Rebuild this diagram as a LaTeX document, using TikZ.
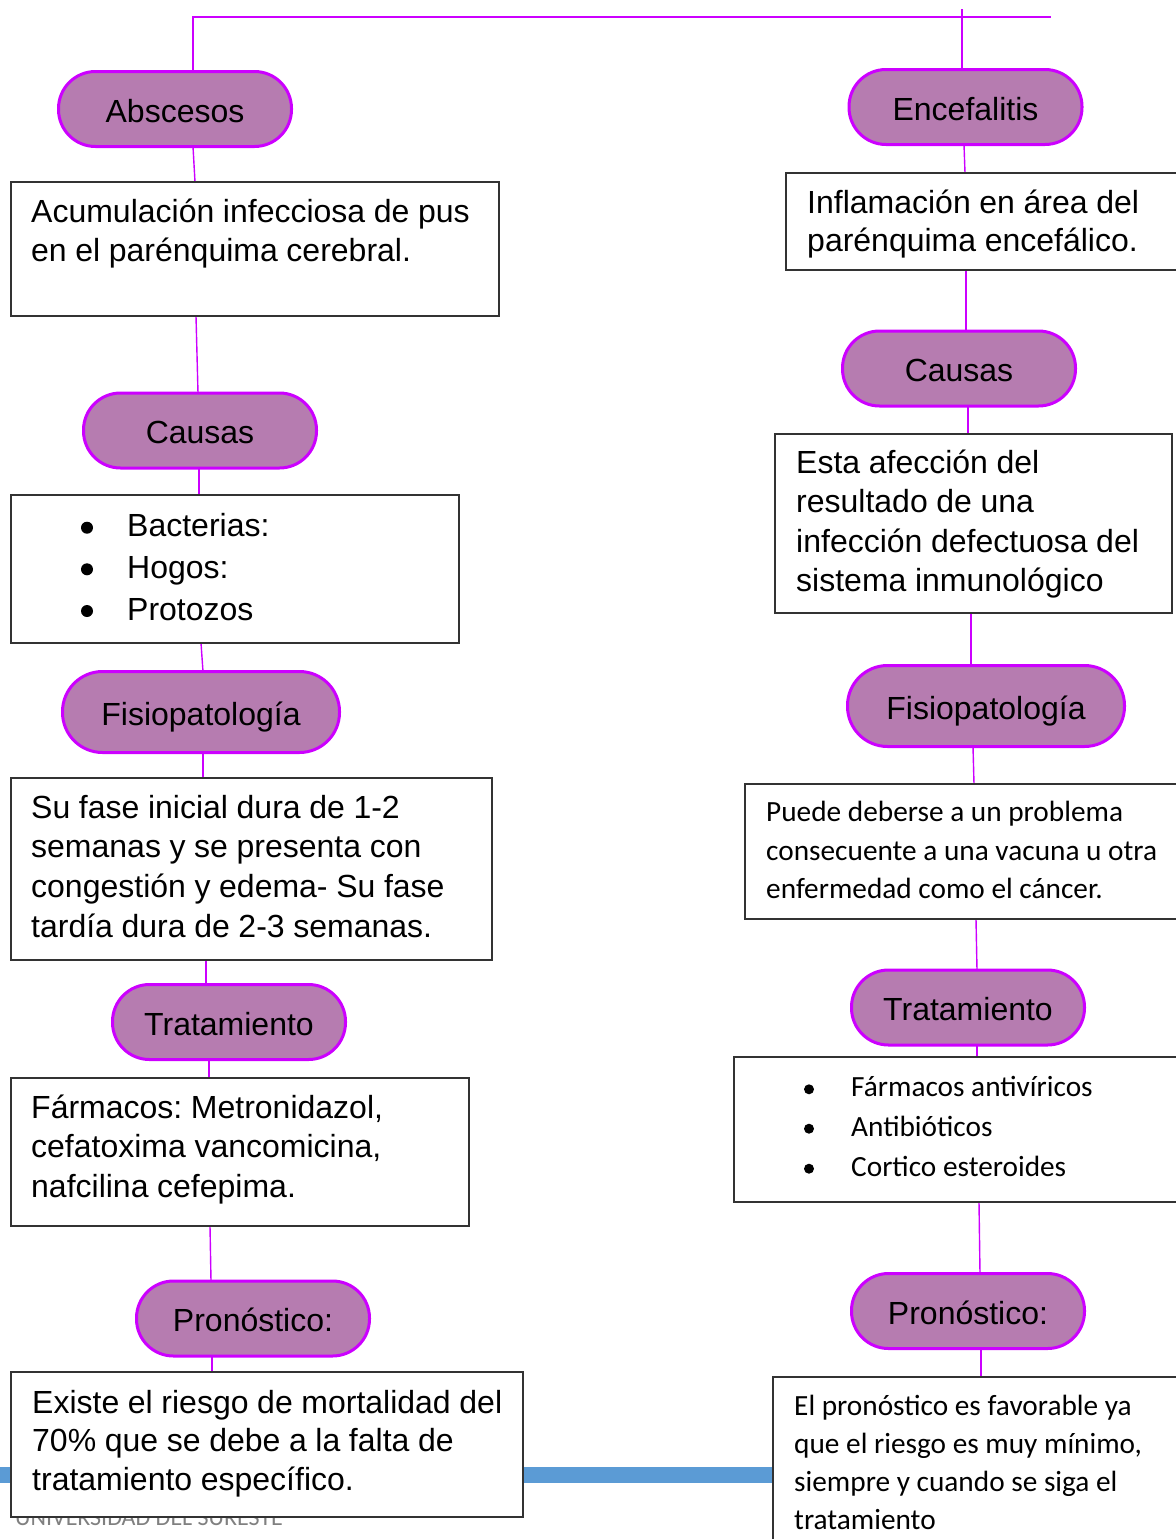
\documentclass[tikz,border=0pt]{standalone}
\usepackage{fontspec}
\setmainfont[WordSpace=0.97]{Liberation Sans}
\newfontfamily\cfont{Carlito}
\usetikzlibrary{backgrounds}
\frenchspacing
\definecolor{pillfill}{HTML}{B67CB0}
\definecolor{pilldraw}{HTML}{CC00FF}
\definecolor{boxdraw}{HTML}{333333}
\definecolor{barblue}{HTML}{5B9BD5}
\tikzset{
  pill/.style={draw=pilldraw, line width=3pt, fill=pillfill, rounded corners=37pt,
    minimum width=233pt, minimum height=75pt, text height=26pt, text depth=0pt,
    inner sep=0pt, outer sep=0pt, font=\fontsize{32}{38}\selectfont},
  bigpill/.style={minimum width=277pt, minimum height=81pt, rounded corners=40pt},
  box/.style={draw=boxdraw, line width=1.4pt, fill=white, anchor=north west,
    inner sep=0pt, outer sep=0pt},
  conn/.style={draw=pilldraw, line width=1.4pt},
  atxt/.style={anchor=base west, inner sep=0pt, align=flush left, text width=560pt,
    font=\fontsize{32}{#1}\selectfont},
  ctxt/.style={anchor=base west, inner sep=0pt, align=flush left, text width=560pt,
    font=\cfont\fontsize{29.3}{#1}\selectfont},
  bul/.style={circle, fill=black, inner sep=0pt, minimum size=#1},
}
\newcommand\lnk[4]{\draw[conn] ([xshift=#2pt]#1.south) -- ([xshift=#4pt]#3.north);}
\begin{document}
\begin{tikzpicture}[x=1pt,y=-1pt]
\useasboundingbox (0,0) rectangle (1175,1539);

% pills
\node[pill] (p1) at (175,109) {Abscesos};
\node[pill] (p2) at (200,430.5) {Causas};
\node[pill,bigpill] (p3) at (201,712) {Fisiopatología};
\node[pill] (p4) at (229,1022) {Tratamiento};
\node[pill] (p5) at (253,1318.5) {Pronóstico:};

\node[pill] (q1) at (965.5,107) {Encefalitis};
\node[pill] (q2) at (959,368.5) {Causas};
\node[pill,bigpill] (q3) at (986,706) {Fisiopatología};
\node[pill] (q4) at (968,1007.5) {Tratamiento};
\node[pill] (q5) at (968,1311) {Pronóstico:};

% boxes
\node[box, minimum width=488pt, minimum height=134pt] (b1) at (11,182) {};
\node[box, minimum width=448pt, minimum height=148pt] (b2) at (11,495) {};
\node[box, minimum width=481pt, minimum height=182pt] (b3) at (11,778) {};
\node[box, minimum width=458pt, minimum height=148pt] (b4) at (11,1078) {};
\node[box, minimum width=512pt, minimum height=145pt] (b5) at (11,1372) {};

\node[box, minimum width=400pt, minimum height=97pt] (c1) at (786,173) {};
\node[box, minimum width=397pt, minimum height=179pt] (c2) at (775,434) {};
\node[box, minimum width=440pt, minimum height=135pt] (c3) at (745,784) {};
\node[box, minimum width=451pt, minimum height=145pt] (c4) at (734,1057) {};
\node[box, minimum width=420pt, minimum height=190pt] (c5) at (773,1377) {};

% texts
\node[atxt=39] (t1) at (31,222.7) {Acumulación infecciosa de pus\\en el parénquima cerebral.};
\node[atxt=41.7] (t2) at (127,536.7) {Bacterias:\\Hogos:\\Protozos};
\node[bul=12pt] (d1) at (87,527.7) {};
\node[bul=12pt] (d2) at (87,569.3) {};
\node[bul=12pt] (d3) at (87,611) {};
\node[atxt=39.8] (t3) at (31,818) {Su fase inicial dura de 1-2\\semanas y se presenta con\\congestión y edema- Su fase\\tardía dura de 2-3 semanas.};
\node[atxt=39.5] (t4) at (31,1118) {Fármacos: Metronidazol,\\cefatoxima vancomicina,\\nafcilina cefepima.};
\node[atxt=38.4] (t5) at (32,1413.3) {Existe el riesgo de mortalidad del\\70\% que se debe a la falta de\\tratamiento específico.};

\node[atxt=38.5] (u1) at (807,213) {Inflamación en área del\\parénquima encefálico.};
\node[atxt=39.5] (u2) at (796,473.3) {Esta afección del\\resultado de una\\infección defectuosa del\\sistema inmunológico};
\node[ctxt=38.3] (u3) at (766,821.7) {Puede deberse a un problema\\consecuente a una vacuna u otra\\enfermedad como el cáncer.};
\node[ctxt=40] (u4) at (851,1096.7) {Fármacos antivíricos\\Antibióticos\\Cortico esteroides};
\node[bul=10pt] (e1) at (809,1089.3) {};
\node[bul=10pt] (e2) at (809,1128.7) {};
\node[bul=10pt] (e3) at (809,1168.7) {};
\node[ctxt=38.3] (u5) at (794,1415) {El pronóstico es favorable ya\\que el riesgo es muy mínimo,\\siempre y cuando se siga el\\tratamiento};

\begin{pgfonlayer}{background}
  \fill[barblue] (0,1467) rectangle (800,1483);
  \node[anchor=base west, inner sep=0pt, text=gray, font=\cfont\fontsize{24}{28}\selectfont] (foot) at (15,1525) {UNIVERSIDAD DEL SURESTE};
  \coordinate (tl) at (193,17);
  \coordinate (tr) at (1051,17);
  \coordinate (tv) at (962,9);
  \draw[conn] ([xshift=18pt]p1.north) -- (tl) -- (tr);
  \draw[conn] (tv) -- ([xshift=-3.5pt]q1.north);
  \lnk{p1}{18}{b1}{-60}
  \lnk{b1}{-59}{p2}{-2}
  \lnk{p2}{-1}{b2}{-36}
  \lnk{b2}{-34}{p3}{2}
  \lnk{p3}{2}{b3}{-48.5}
  \lnk{b3}{-45.5}{p4}{-23}
  \lnk{p4}{-20}{b4}{-31}
  \lnk{b4}{-30}{p5}{-42}
  \lnk{p5}{-41}{b5}{-55}
  \lnk{q1}{-1.5}{c1}{-21}
  \lnk{c1}{-20}{q2}{7}
  \lnk{q2}{9}{c2}{-5.5}
  \lnk{c2}{-2.5}{q3}{-15}
  \lnk{q3}{-13}{c3}{9}
  \lnk{c3}{11}{q4}{9}
  \lnk{q4}{9}{c4}{17.5}
  \lnk{c4}{19.5}{q5}{12}
  \lnk{q5}{13}{c5}{-2}
\end{pgfonlayer}
\end{tikzpicture}
\end{document}
